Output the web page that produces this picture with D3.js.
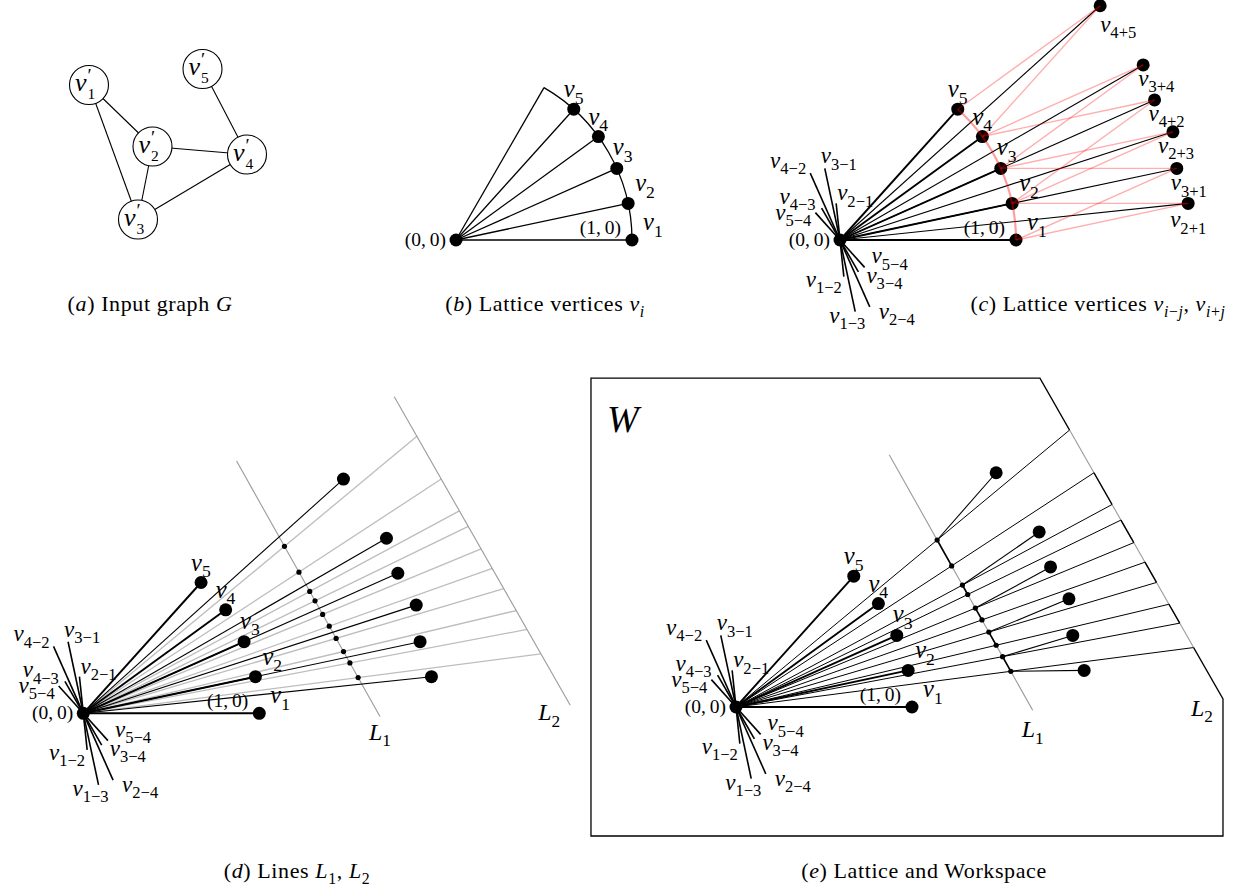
<!DOCTYPE html>
<html><head><meta charset="utf-8">
<script src="https://cdn.jsdelivr.net/npm/d3@7"></script>
<style>
html,body{margin:0;padding:0;background:#fff;}
text{font-family:"Liberation Serif","Times New Roman",serif;fill:#000;white-space:pre;}
</style></head><body>
<svg id="fig" width="1248" height="890" viewBox="0 0 1248 890"></svg>
<script>
// ---------- data ----------
// input graph G
const graphNodeIds = [1, 2, 3, 4, 5];
const graphNodeX = [0.145, 0.4625, 0.39, 0.935, 0.7125];
const graphNodeY = [0.225, 0.5325, 0.8975, 0.5725, 0.145];
const graphEdges = [[1, 2], [1, 3], [2, 3], [2, 4], [3, 4], [5, 4]];

// lattice vertices v_i: unit vectors at these angles (degrees)
const latticeIds = [1, 2, 3, 4, 5];
const latticeAngles = [0, 12, 24, 36, 48];
const sectorEndAngle = 60;

// v_{i+j} and v_{i-j}
const sumPairs = [[4, 5], [3, 4], [4, 2], [2, 3], [3, 1], [2, 1]];
const diffPairs = [[4, 2], [3, 1], [2, 1], [4, 3], [5, 4], [4, 5], [3, 4], [1, 2], [1, 3], [2, 4]];
const diffNames = ["4−2", "3−1", "2−1", "4−3", "5−4", "5−4", "3−4", "1−2", "1−3", "2−4"];

// rays through the marked points of L1 (degrees)
const rayAngles = [39.7, 33.2, 28.3, 25.9, 22.45, 19.5, 16.5, 13.35, 10.7, 7.4];
// lines given by normal direction (deg), distance from origin, and drawn extent along the line
const lineL1 = {normal: 29.3, dist: 1.461, s0: -0.824, s1: 0.841};
const lineL2 = {normal: 29.7, dist: 2.426, s0: -0.687, s1: 1.331};

// workspace: which L1 point each v_{i+j} attaches to, and the joined pieces of L1 / L2
const sumToL1 = [0, 2, 4, 6, 8, 9];
const l1Links = [[0, 1], [2, 3], [4, 5], [6, 7], [8, 9]];
const l2Links = [[1, 2], [3, 4], [5, 6], [7, 8]];
const workspaceX = [-0.824, 2.767];
const workspaceY = [-0.733, 1.869];

// ---------- layout ----------
const UNIT = 176;
const origins = {b: [456, 240], c: [840, 240], d: [83.3, 713.3], e: [736, 707]};
const vLabelOff = {1: [11, -10], 2: [7, -12], 3: [-4, -13], 4: [-10, -12], 5: [-10, -12]};
const sumLabelOff = [[0, 26], [-5, 21], [-6, 21], [-15, 21], [-6, 22], [-18, 24]];
const diffLabelPos = [["end", -4, -5], ["start", -4, -5], ["start", 1, -3], ["end", -6, -4], ["end", -4, 7],
                      ["start", 7, -4], ["start", 8, 11], ["end", -2, 10], ["middle", -8, 11], ["start", 9, 12]];
const V_SIZE = 24.5, C_SIZE = 19.5, CAP_SIZE = 22, SUB = 0.72;

const svg = d3.select("#fig");
const rad = a => a * Math.PI / 180;
const polar = (r, a) => [r * Math.cos(rad(a)), r * Math.sin(rad(a))];
const plus = (p, q) => [p[0] + q[0], p[1] + q[1]];
const minus = (p, q) => [p[0] - q[0], p[1] - q[1]];
const vecOf = id => polar(1, latticeAngles[latticeIds.indexOf(id)]);

function lineFrame(L) { const n = polar(1, L.normal); return {n, t: [n[1], -n[0]]}; }
function linePoint(L, s) { const f = lineFrame(L); return [L.dist * f.n[0] + s * f.t[0], L.dist * f.n[1] + s * f.t[1]]; }
function rayHit(L, ang) { return polar(L.dist / Math.cos(rad(ang - L.normal)), ang); }
function sOnLine(L, p) { const f = lineFrame(L); return p[0] * f.t[0] + p[1] * f.t[1]; }

function mathText(g, x, y, size, parts, anchor) {
  const t = g.append("text").attr("x", x).attr("y", y).attr("font-size", size)
    .attr("text-anchor", anchor || "start");
  let shift = 0;
  for (const p of parts) {
    const span = t.append("tspan").text(p.t);
    const want = p.sub ? 0.27 * size : 0;
    if (want !== shift) { span.attr("dy", want - shift); shift = want; }
    if (p.sub) span.attr("font-size", SUB * size);
    if (p.it) span.attr("font-style", "italic");
  }
  return t;
}
const vParts = s => [{t: "v", it: true}, {t: s, sub: true}];

function panel(key) {
  const [ox, oy] = origins[key];
  const x = d3.scaleLinear().domain([0, 1]).range([ox, ox + UNIT]);
  const y = d3.scaleLinear().domain([0, 1]).range([oy, oy - UNIT]);
  const g = svg.append("g");
  const path = d3.line().x(d => x(d[0])).y(d => y(d[1]));
  const seg = (a, b, stroke, w, op) => g.append("path").attr("d", path([a, b]))
    .attr("fill", "none").attr("stroke", stroke).attr("stroke-width", w)
    .attr("stroke-opacity", op == null ? 1 : op);
  const dot = (p, r) => g.append("circle").attr("cx", x(p[0])).attr("cy", y(p[1])).attr("r", r).attr("fill", "#000");
  return {g, x, y, path, seg, dot};
}

// common parts of the lattice panels
function latticeLabels(P) {
  latticeIds.forEach(id => {
    const p = vecOf(id), o = vLabelOff[id];
    mathText(P.g, P.x(p[0]) + o[0], P.y(p[1]) + o[1], V_SIZE, vParts(String(id)));
  });
  mathText(P.g, P.x(1) - 11, P.y(0) - 6, C_SIZE, [{t: "(1,\u20090)"}], "end");
  mathText(P.g, P.x(0) - 10, P.y(0) + 5.5, C_SIZE, [{t: "(0,\u20090)"}], "end");
}
function diffStar(P) {
  diffPairs.forEach(([i, j], k) => {
    const p = minus(vecOf(i), vecOf(j));
    P.seg([0, 0], p, "#000", 1.6);
    const [anchor, dx, dy] = diffLabelPos[k];
    mathText(P.g, P.x(p[0]) + dx, P.y(p[1]) + dy, V_SIZE - 1.5, vParts(diffNames[k]), anchor);
  });
}

// ---------- (a) input graph ----------
{
  const gx = d3.scaleLinear().domain([0, 1]).range([60, 260]);
  const gy = d3.scaleLinear().domain([0, 1]).range([40, 240]);
  const g = svg.append("g");
  const pos = id => { const k = graphNodeIds.indexOf(id); return [gx(graphNodeX[k]), gy(graphNodeY[k])]; };
  graphEdges.forEach(([a, b]) => {
    const p = pos(a), q = pos(b);
    g.append("line").attr("x1", p[0]).attr("y1", p[1]).attr("x2", q[0]).attr("y2", q[1])
      .attr("stroke", "#000").attr("stroke-width", 1.1);
  });
  graphNodeIds.forEach(id => {
    const [cx, cy] = pos(id);
    g.append("circle").attr("cx", cx).attr("cy", cy).attr("r", 19.5)
      .attr("fill", "#fff").attr("stroke", "#000").attr("stroke-width", 1.1);
    // v with a prime above and the index below, stacked at the same x
    const t = g.append("text").attr("x", cx - 14).attr("y", cy + 6).attr("font-size", 26);
    t.append("tspan").attr("font-style", "italic").text("v");
    const pr = t.append("tspan").attr("font-size", 19).attr("dx", 1).attr("dy", -9).text("′");
    const w = pr.node().getComputedTextLength();
    t.append("tspan").attr("font-size", 15.5).attr("dx", -w).attr("dy", 17).text(String(id));
  });
  mathText(svg, 150, 311, CAP_SIZE, [{t: "("}, {t: "a", it: true}, {t: ") Input graph "}, {t: "G", it: true}], "middle")
    .attr("letter-spacing", 0.6);
}

// ---------- (b) lattice vertices ----------
{
  const P = panel("b");
  const r = P.x(1) - P.x(0);
  P.seg([0, 0], polar(1, sectorEndAngle), "#000", 1.3);
  latticeIds.forEach(id => P.seg([0, 0], vecOf(id), "#000", 1.3));
  P.g.append("path")
    .attr("d", d3.arc()({innerRadius: r, outerRadius: r, startAngle: Math.PI / 2 - rad(sectorEndAngle), endAngle: Math.PI / 2}))
    .attr("transform", `translate(${P.x(0)},${P.y(0)})`)
    .attr("fill", "none").attr("stroke", "#000").attr("stroke-width", 1.3);
  latticeIds.forEach(id => P.dot(vecOf(id), 6.5));
  P.dot([0, 0], 6.5);
  latticeLabels(P);
  mathText(svg, 545, 311, CAP_SIZE, [{t: "("}, {t: "b", it: true}, {t: ") Lattice vertices "}, {t: "v", it: true}, {t: "i", it: true, sub: true}], "middle")
    .attr("letter-spacing", 0.6);
}

// ---------- (c) sums and differences ----------
{
  const P = panel("c");
  const r = P.x(1) - P.x(0);
  sumPairs.forEach(([i, j]) => P.seg([0, 0], plus(vecOf(i), vecOf(j)), "#000", 1.1));
  latticeIds.forEach(id => P.seg([0, 0], vecOf(id), "#000", 1.9));
  diffStar(P);
  latticeIds.forEach(id => P.dot(vecOf(id), 6.5));
  sumPairs.forEach(([i, j]) => P.dot(plus(vecOf(i), vecOf(j)), 6.5));
  P.dot([0, 0], 6.5);
  // parallelogram sides and the arc through v_1 .. v_5
  sumPairs.forEach(([i, j]) => {
    const s = plus(vecOf(i), vecOf(j));
    P.seg(vecOf(i), s, "#ff0000", 1.4, 0.32);
    P.seg(vecOf(j), s, "#ff0000", 1.4, 0.32);
  });
  P.g.append("path")
    .attr("d", d3.arc()({innerRadius: r, outerRadius: r,
      startAngle: Math.PI / 2 - rad(d3.max(latticeAngles)), endAngle: Math.PI / 2 - rad(d3.min(latticeAngles))}))
    .attr("transform", `translate(${P.x(0)},${P.y(0)})`)
    .attr("fill", "none").attr("stroke", "#ff0000").attr("stroke-opacity", 0.38).attr("stroke-width", 2.2);
  latticeLabels(P);
  sumPairs.forEach(([i, j], k) => {
    const s = plus(vecOf(i), vecOf(j)), o = sumLabelOff[k];
    mathText(P.g, P.x(s[0]) + o[0], P.y(s[1]) + o[1], V_SIZE - 1.5, vParts(`${i}+${j}`));
  });
  mathText(svg, 1098, 311, CAP_SIZE, [{t: "("}, {t: "c", it: true}, {t: ") Lattice vertices "},
    {t: "v", it: true}, {t: "i", it: true, sub: true}, {t: "−", sub: true}, {t: "j", it: true, sub: true},
    {t: ", "}, {t: "v", it: true}, {t: "i", it: true, sub: true}, {t: "+", sub: true}, {t: "j", it: true, sub: true}], "middle")
    .attr("letter-spacing", 0.6);
}

// ---------- (d) lines L1, L2 ----------
{
  const P = panel("d");
  rayAngles.forEach(a => P.seg([0, 0], rayHit(lineL2, a), "#bdbdbd", 1.3));
  P.seg(linePoint(lineL1, lineL1.s0), linePoint(lineL1, lineL1.s1), "#9a9a9a", 1.1);
  P.seg(linePoint(lineL2, lineL2.s0), linePoint(lineL2, lineL2.s1), "#9a9a9a", 1.1);
  sumPairs.forEach(([i, j]) => P.seg([0, 0], plus(vecOf(i), vecOf(j)), "#000", 1.1));
  latticeIds.forEach(id => P.seg([0, 0], vecOf(id), "#000", 1.9));
  diffStar(P);
  latticeIds.forEach(id => P.dot(vecOf(id), 6.5));
  sumPairs.forEach(([i, j]) => P.dot(plus(vecOf(i), vecOf(j)), 6.5));
  rayAngles.forEach(a => P.dot(rayHit(lineL1, a), 2.6));
  P.dot([0, 0], 6.5);
  latticeLabels(P);
  const e1 = linePoint(lineL1, lineL1.s1), e2 = linePoint(lineL2, lineL2.s1);
  mathText(P.g, P.x(e1[0]) - 11, P.y(e1[1]) + 23, 24, [{t: "L", it: true}, {t: "1", sub: true}]);
  mathText(P.g, P.x(e2[0]) - 32, P.y(e2[1]) + 15, 24, [{t: "L", it: true}, {t: "2", sub: true}]);
  mathText(svg, 297, 878, CAP_SIZE, [{t: "("}, {t: "d", it: true}, {t: ") Lines "},
    {t: "L", it: true}, {t: "1", sub: true}, {t: ", "}, {t: "L", it: true}, {t: "2", sub: true}], "middle")
    .attr("letter-spacing", 0.6);
}

// ---------- (e) lattice and workspace ----------
{
  const P = panel("e");
  const f2 = lineFrame(lineL2);
  const sTop = (lineL2.dist * f2.n[1] - workspaceY[1]) / f2.n[0];
  const sRight = (workspaceX[1] - lineL2.dist * f2.n[0]) / f2.n[1];
  const l2Hits = rayAngles.map(a => rayHit(lineL2, a));
  const l1Hits = rayAngles.map(a => rayHit(lineL1, a));
  const sFirst = sOnLine(lineL2, l2Hits[0]), sLast = sOnLine(lineL2, l2Hits[l2Hits.length - 1]);

  // workspace boundary
  P.g.append("path").attr("d", P.path([
      linePoint(lineL2, sFirst), linePoint(lineL2, sTop), [workspaceX[0], workspaceY[1]],
      [workspaceX[0], workspaceY[0]], [workspaceX[1], workspaceY[0]], [workspaceX[1], linePoint(lineL2, sRight)[1]],
      linePoint(lineL2, sRight), linePoint(lineL2, sLast)]))
    .attr("fill", "none").attr("stroke", "#000").attr("stroke-width", 1.3);
  P.seg(l2Hits[0], l2Hits[l2Hits.length - 1], "#9a9a9a", 1.1);
  l2Links.forEach(([a, b]) => P.seg(l2Hits[a], l2Hits[b], "#000", 1.4));

  P.seg(linePoint(lineL1, lineL1.s0), linePoint(lineL1, lineL1.s1), "#9a9a9a", 1.1);
  l1Links.forEach(([a, b]) => P.seg(l1Hits[a], l1Hits[b], "#000", 1.6));
  l2Hits.forEach(h => P.seg([0, 0], h, "#000", 1.0));
  sumPairs.forEach(([i, j], k) => P.seg(plus(vecOf(i), vecOf(j)), l1Hits[sumToL1[k]], "#000", 1.1));
  latticeIds.forEach(id => P.seg([0, 0], vecOf(id), "#000", 1.9));
  diffStar(P);
  latticeIds.forEach(id => P.dot(vecOf(id), 6.5));
  sumPairs.forEach(([i, j]) => P.dot(plus(vecOf(i), vecOf(j)), 6.5));
  l1Hits.forEach(h => P.dot(h, 2.6));
  P.dot([0, 0], 6.5);
  latticeLabels(P);
  const e1 = linePoint(lineL1, lineL1.s1), c2 = linePoint(lineL2, sRight);
  mathText(P.g, P.x(e1[0]) - 11, P.y(e1[1]) + 27, 24, [{t: "L", it: true}, {t: "1", sub: true}]);
  mathText(P.g, P.x(c2[0]) - 32, P.y(c2[1]) + 17, 24, [{t: "L", it: true}, {t: "2", sub: true}]);
  mathText(P.g, P.x(workspaceX[0]) + 16, P.y(workspaceY[1]) + 54, 38, [{t: "W", it: true}]);
  mathText(svg, 924, 878, CAP_SIZE, [{t: "("}, {t: "e", it: true}, {t: ") Lattice and Workspace"}], "middle")
    .attr("letter-spacing", 0.6);
}
</script>
</body></html>
